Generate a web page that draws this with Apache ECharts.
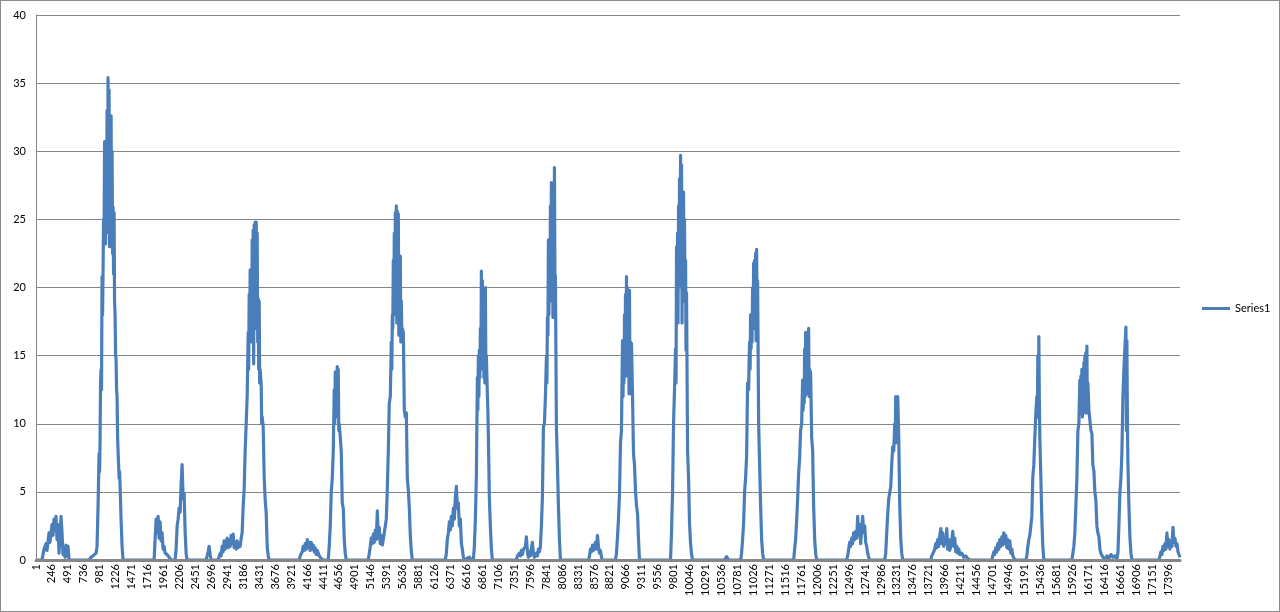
<!DOCTYPE html>
<html>
<head>
<meta charset="utf-8">
<script src="https://cdn.jsdelivr.net/npm/echarts@6/dist/echarts.min.js"></script>
<style>
html,body{margin:0;padding:0;background:#fff;}
#c{width:1280px;height:612px;box-sizing:border-box;border:1px solid #8c8c8c;}
</style>
</head>
<body>
<div id="c"></div>
<script>
// x tick labels (category index shown every 245 samples)
var tickStep = 245;
var tickLabels = ["1","246","491","736","981","1226","1471","1716","1961","2206","2451","2696","2941","3186","3431","3676","3921","4166","4411","4656","4901","5146","5391","5636","5881","6126","6371","6616","6861","7106","7351","7596","7841","8086","8331","8576","8821","9066","9311","9556","9801","10046","10291","10536","10781","11026","11271","11516","11761","12006","12251","12496","12741","12986","13231","13476","13721","13966","14211","14456","14701","14946","15191","15436","15681","15926","16171","16416","16661","16906","17151","17396"];
var yTicks = [0,5,10,15,20,25,30,35,40];
var seriesName = "Series1";

// [sample index (0-based), value], burst by burst
var burstA = [[0,0],[92,0],[123,0.8],[154,1.2],[169,0.7],[200,2.0],[215,1.3],[246,2.6],[261,1.8],[277,3.0],[292,2.2],[308,3.2],[323,1.5],[338,2.6],[354,0.5],[369,1.8],[385,3.2],[400,2.0],[415,0.4],[431,0.9],[446,0.2],[461,1.1],[477,0.3],[492,1.0],[508,0]];
var burstB = [[815,0],[846,0.2],[877,0.3],[907,0.2],[923,0.5],[938,1.0],[954,4],[969,7.8],[977,6.5],[984,8.5],[992,13],[1000,14],[1007,12.5],[1015,20.8],[1023,18],[1030,21],[1038,25],[1046,24],[1054,30.7],[1061,26],[1069,23.2],[1077,29],[1084,24],[1092,33],[1100,25],[1107,35.4],[1115,27],[1123,34.5],[1130,23],[1138,29],[1146,24],[1154,32.6],[1161,25],[1169,30],[1177,22.5],[1184,25.9],[1192,21],[1200,25.5],[1207,19],[1215,18],[1223,15],[1230,14.8],[1238,12.5],[1246,12],[1254,9],[1261,8],[1277,6],[1284,6.5],[1292,5.5],[1307,3],[1323,1],[1338,0]];
var burstC = [[1815,0],[1830,1.5],[1846,3.0],[1861,2.0],[1876,3.2],[1892,1.6],[1907,2.8],[1923,1.4],[1938,2.0],[1953,0.8],[1969,1.0],[1984,0.5],[2015,0.4],[2046,0.2],[2076,0]];
var burstD = [[2138,0],[2153,0.8],[2169,2.5],[2184,3.0],[2199,3.8],[2215,3.5],[2230,5.5],[2245,7.0],[2261,4.5],[2276,4.9],[2292,2.0],[2307,0.5],[2322,0]];
var burstE = [[2615,0],[2645,0.6],[2661,1.0],[2676,0.4],[2692,0]];
var burstFG = [[2799,0],[2830,0.5],[2845,0.3],[2861,1.0],[2876,0.6],[2891,1.4],[2907,0.8],[2922,1.3],[2938,1.6],[2953,0.9],[2968,1.5],[2984,1.0],[2999,1.8],[3014,1.2],[3030,1.9],[3045,0.9],[3061,1.3],[3076,0.8],[3091,1.4],[3107,0.9],[3122,1.2],[3137,1.0],[3153,1.6],[3168,2.0],[3184,4.0],[3199,5.2],[3214,8.0],[3230,10.0],[3245,12.0],[3261,16.7],[3268,14],[3276,19.5],[3284,16.5],[3291,21.3],[3299,17],[3307,20],[3314,16],[3322,23.5],[3330,18],[3337,24.2],[3345,14.4],[3353,24.6],[3361,18],[3368,24.8],[3376,17],[3384,24.8],[3391,20],[3399,24],[3407,16],[3414,19.2],[3422,14],[3430,19],[3437,13],[3445,14],[3461,12.8],[3468,10],[3476,10.5],[3491,9.8],[3507,6],[3522,4.4],[3537,3.5],[3553,1.0],[3568,0.3],[3584,0]];
var burstH = [[4045,0],[4060,0.3],[4091,0.6],[4106,1.0],[4122,0.7],[4137,1.2],[4153,0.8],[4168,1.5],[4183,0.9],[4199,1.3],[4214,0.7],[4230,1.3],[4245,0.8],[4260,1.1],[4276,0.6],[4291,0.9],[4306,0.4],[4322,0.7],[4353,0.3],[4383,0.1],[4414,0]];
var burstI = [[4491,0],[4506,1],[4522,2.5],[4537,5],[4552,5.9],[4568,8],[4583,12.5],[4591,10],[4599,13.8],[4606,11],[4614,13.5],[4622,10.5],[4629,14.2],[4637,11],[4645,14],[4653,9.5],[4660,10],[4676,9],[4691,8],[4706,4.2],[4722,3.8],[4737,1.5],[4752,0.5],[4768,0]];
var burstJK = [[5106,0],[5122,0.5],[5137,1.0],[5152,1.6],[5168,1.2],[5183,1.9],[5198,1.3],[5214,2.2],[5229,1.5],[5245,3.6],[5260,1.6],[5275,2.4],[5291,1.2],[5306,1.8],[5322,1.1],[5337,1.5],[5352,2.0],[5368,2.5],[5383,3.0],[5398,5.1],[5414,8],[5429,11.5],[5445,12],[5460,16],[5468,14],[5476,18],[5483,17],[5491,22],[5499,18],[5506,24],[5514,18],[5522,25.5],[5529,19],[5537,26],[5545,17.4],[5552,25.6],[5560,19],[5568,25.4],[5576,16.5],[5583,22.2],[5591,17],[5599,22.3],[5606,16],[5614,19],[5622,16.7],[5629,17],[5645,16.7],[5660,11],[5675,10.5],[5691,10.8],[5706,6],[5722,5.1],[5737,3.8],[5752,1.8],[5768,0.6],[5783,0]];
var burstL = [[6290,0],[6306,0.5],[6321,1.5],[6337,2.0],[6352,2.8],[6367,2.2],[6383,3.2],[6398,2.5],[6414,3.8],[6429,3.0],[6444,4.6],[6460,5.4],[6475,3.8],[6490,4.2],[6506,2.5],[6521,3.0],[6537,1.2],[6552,0.8],[6567,0.2],[6583,0],[6660,0.2],[6690,0]];
var burstM = [[6721,0],[6736,1.0],[6752,3],[6767,6.1],[6783,13.4],[6790,11],[6798,15],[6806,12],[6813,15.4],[6821,13.4],[6829,17],[6837,14],[6844,21.2],[6852,18],[6860,20.5],[6867,16],[6875,20],[6883,13.4],[6890,18],[6898,13],[6906,20],[6913,14],[6921,15],[6937,12],[6944,11],[6952,9],[6967,4.5],[6983,2.4],[6998,0.8],[7013,0]];
var burstNO = [[7382,0],[7398,0.3],[7428,0.5],[7444,0.3],[7459,0.7],[7475,0.4],[7490,0.8],[7521,1.0],[7536,1.7],[7552,0.6],[7567,0.2],[7582,0.6],[7598,0.3],[7613,0.9],[7628,1.3],[7644,0.5],[7659,0.2],[7690,0.5],[7705,0.3],[7721,0.8],[7736,0.6],[7751,1.0],[7767,2.5],[7782,4.6],[7798,9.8],[7813,10],[7828,12],[7844,14.9],[7851,13],[7859,17.8],[7867,16.5],[7874,23.5],[7882,18],[7890,23],[7898,19],[7905,26],[7913,21],[7920,27.7],[7928,20],[7936,26.5],[7944,17.8],[7951,27],[7959,22],[7967,28.8],[7974,21],[7982,20.8],[7990,15],[7997,9.8],[8013,7],[8028,4],[8044,1.5],[8059,0]];
var burstP = [[8490,0],[8505,0.3],[8521,0.8],[8536,0.6],[8552,1.1],[8567,0.7],[8582,1.0],[8597,1.3],[8613,0.8],[8628,1.8],[8644,1.0],[8659,0.5],[8674,0.7],[8690,0.2],[8705,0]];
var burstQ = [[8905,0],[8920,0.5],[8936,1.7],[8951,3],[8967,4.9],[8982,8.6],[8997,9.5],[9013,16.1],[9021,12],[9028,16],[9036,13],[9044,18],[9051,14],[9059,19.5],[9067,13.5],[9074,20.8],[9082,14],[9090,20],[9097,15],[9105,19.5],[9113,12.2],[9120,19.8],[9128,13],[9136,16],[9143,12.2],[9151,15.9],[9167,12],[9182,7.8],[9197,7],[9213,5],[9228,4],[9244,3.4],[9259,1.5],[9274,0]];
var burstR = [[9751,0],[9766,2],[9782,5],[9797,10],[9812,12.5],[9828,15.5],[9836,13],[9843,23],[9851,18],[9859,24],[9866,17.4],[9874,26],[9882,20],[9889,28],[9897,21],[9905,29.7],[9912,22],[9920,29],[9928,17.4],[9936,26],[9943,19],[9951,27],[9959,20],[9966,25],[9974,19],[9982,22],[9989,15.4],[9997,19.6],[10013,8],[10028,6],[10043,2.7],[10059,1.2],[10074,0.4],[10089,0],[10581,0],[10612,0.25],[10643,0]];
var burstS = [[10828,0],[10843,0.5],[10858,1.5],[10874,2.7],[10889,5],[10904,6],[10920,7.6],[10935,13],[10951,12.5],[10958,14.5],[10966,16],[10974,14],[10981,18],[10989,15.5],[10997,17.9],[11004,16],[11012,20],[11020,17],[11028,21.8],[11035,18],[11043,22],[11051,17],[11058,22.5],[11066,16.1],[11074,22.8],[11081,17],[11089,20.5],[11105,10],[11120,7],[11135,4],[11151,1.5],[11166,0.5],[11181,0]];
var burstT = [[11643,0],[11658,0.8],[11673,1.5],[11689,2.9],[11704,4.5],[11720,6.4],[11735,7.5],[11750,9.5],[11766,10],[11781,13.2],[11789,11],[11797,12.5],[11804,11.5],[11812,15.5],[11820,12],[11827,16.7],[11835,13],[11843,16.5],[11850,12.2],[11858,16],[11866,13],[11873,17],[11881,12],[11889,14],[11904,13.7],[11920,9],[11935,8],[11950,4],[11966,1.5],[11981,0.5],[11996,0]];
var burstU = [[12458,0],[12473,0.3],[12489,0.8],[12504,1.3],[12519,1.0],[12535,1.6],[12550,1.2],[12565,2.0],[12581,1.5],[12596,2.1],[12612,1.6],[12627,3.2],[12642,1.8],[12658,2.6],[12673,1.2],[12689,2.4],[12704,3.2],[12719,2.0],[12735,2.5],[12750,1.3],[12765,1.0],[12781,0.5],[12796,0.2],[12811,0]];
var burstV = [[13042,0],[13058,0.5],[13073,2],[13089,3.4],[13104,4.5],[13119,4.6],[13135,5.4],[13150,7],[13165,8.3],[13181,8],[13196,10],[13204,8.6],[13211,12],[13219,9],[13227,11.9],[13235,8.6],[13242,12],[13258,9],[13273,4],[13289,1.5],[13304,0.5],[13319,0]];
var burstW = [[13750,0],[13765,0.3],[13796,0.6],[13811,0.8],[13827,1.2],[13842,0.9],[13857,1.5],[13873,1.0],[13888,1.8],[13904,2.3],[13919,1.2],[13934,2.0],[13950,1.0],[13965,1.6],[13980,1.2],[13996,2.3],[14011,0.8],[14027,1.5],[14042,0.7],[14057,1.0],[14073,1.5],[14088,2.1],[14104,1.0],[14119,1.6],[14134,0.6],[14150,1.0],[14165,0.5],[14181,0.8],[14196,0.4],[14227,0.5],[14257,0.2],[14288,0.3],[14319,0.1],[14350,0]];
var burstX = [[14688,0],[14703,0.3],[14719,0.6],[14734,0.4],[14749,0.9],[14765,0.6],[14780,1.2],[14796,0.8],[14811,1.5],[14826,1.0],[14842,1.7],[14857,1.1],[14872,2.0],[14888,1.2],[14903,1.8],[14919,0.9],[14934,1.5],[14949,0.8],[14965,1.4],[14980,0.5],[14996,0.8],[15011,0.3],[15026,0.2],[15042,0]];
var burstY = [[15211,0],[15226,0.3],[15242,1.0],[15257,1.5],[15272,1.8],[15288,2.5],[15303,3.2],[15318,6.1],[15334,7],[15349,9],[15365,10.8],[15380,12],[15388,10.5],[15395,15],[15403,11],[15411,16.4],[15418,12],[15426,9],[15442,6],[15457,3],[15472,1],[15488,0]];
var burstZ = [[15918,0],[15934,0.5],[15949,1.0],[15964,2],[15980,4],[15995,5.9],[16011,9.5],[16026,10],[16041,13.2],[16049,11],[16057,13.5],[16064,11.5],[16072,14],[16080,10.5],[16087,13.9],[16095,11],[16103,14.5],[16110,11],[16118,15],[16126,10.8],[16133,15.2],[16141,11],[16149,15.7],[16157,10.8],[16164,13],[16180,11],[16195,11],[16211,9.5],[16226,9.3],[16241,7],[16257,6.5],[16272,5],[16287,4.4],[16303,2.5],[16318,2],[16334,1.7],[16349,0.8],[16364,0.5],[16395,0.2],[16426,0.1],[16457,0.3],[16487,0.1],[16518,0.4],[16549,0.2],[16580,0.3],[16610,0.1]];
var burstAA = [[16626,0.5],[16641,2.5],[16656,4.9],[16672,6],[16687,7.8],[16703,12],[16718,14],[16733,15.5],[16749,17.1],[16757,9.5],[16764,16.1],[16772,10],[16779,7.3],[16795,4],[16810,1.7],[16826,0.5],[16841,0]];
var burstAB = [[17256,0],[17272,0.3],[17287,0.6],[17302,0.4],[17318,1.0],[17333,0.7],[17349,1.2],[17364,0.8],[17379,2.0],[17395,1.0],[17410,1.5],[17425,0.8],[17441,1.4],[17456,1.0],[17472,2.4],[17487,1.3],[17502,1.6],[17518,1.0],[17533,1.2],[17549,0.6],[17564,0.4],[17580,0.2]];

var seriesData = [].concat(burstA, burstB, burstC, burstD, burstE, burstFG, burstH, burstI, burstJK, burstL, burstM, burstNO, burstP, burstQ, burstR, burstS, burstT, burstU, burstV, burstW, burstX, burstY, burstZ, burstAA, burstAB);

var chart = echarts.init(document.getElementById('c'), null, {renderer: 'canvas'});
var font = 'Lato, "Open Sans", sans-serif';
chart.setOption({
  animation: false,
  backgroundColor: '#ffffff',
  textStyle: {fontFamily: font},
  grid: {left: 35, right: 99, top: 14, bottom: 51, containLabel: false},
  legend: {
    data: [seriesName],
    orient: 'vertical',
    left: 1196,
    top: 297,
    icon: 'rect',
    itemWidth: 28,
    itemHeight: 3,
    itemGap: 4,
    textStyle: {fontSize: 11, color: '#000', fontFamily: font}
  },
  xAxis: {
    type: 'value',
    min: 0,
    max: 17580,
    interval: tickStep,
    z: 10,
    axisLine: {show: true, onZero: false, lineStyle: {color: '#868686', width: 3}},
    axisTick: {show: false},
    splitLine: {show: false},
    axisLabel: {
      rotate: 90,
      fontSize: 11,
      color: '#000',
      margin: 4,
      fontFamily: font,
      showMaxLabel: false,
      formatter: function (v) {
        var i = Math.round(v / tickStep);
        if (Math.abs(v - i * tickStep) > 1e-6) return '';
        return tickLabels[i] || '';
      }
    }
  },
  yAxis: {
    type: 'value',
    min: yTicks[0],
    max: yTicks[yTicks.length - 1],
    interval: yTicks[1] - yTicks[0],
    axisLine: {show: true, lineStyle: {color: '#868686', width: 1}},
    axisTick: {show: false},
    splitLine: {show: true, lineStyle: {color: '#868686', width: 1}},
    axisLabel: {fontSize: 11, color: '#000', margin: 10, fontFamily: font}
  },
  series: [{
    name: seriesName,
    type: 'line',
    data: seriesData,
    showSymbol: false,
    symbol: 'none',
    sampling: null,
    z: 2,
    lineStyle: {color: '#4a7ebb', width: 3.2, join: 'round'},
    itemStyle: {color: '#4a7ebb'}
  }]
});
</script>
</body>
</html>
